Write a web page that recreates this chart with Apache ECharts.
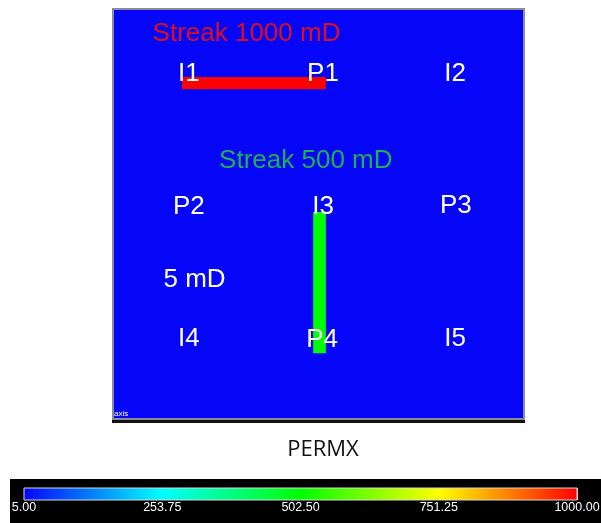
<!DOCTYPE html>
<html>
<head>
<meta charset="utf-8">
<script src="https://cdn.jsdelivr.net/npm/echarts@6/dist/echarts.min.js"></script>
<style>html,body{margin:0;padding:0;background:#fff;}#c{width:601px;height:523px;}</style>
</head>
<body>
<div id="c"></div>
<script>
// Reservoir field (coordinates in % of the model extent): [x0, x1, y0, y1, PERMX mD]
const fieldCells = [
  [0, 100, 0, 100, 5],          // matrix 5 mD
  [16.6, 51.8, 16.4, 19.4, 1000], // streak 1000 mD (I1 -> P1)
  [48.7, 51.8, 49.5, 84.1, 500]   // streak 500 mD (I3 -> P4)
];
// Wells
const wellNames = ['I1', 'P1', 'I2', 'P2', 'I3', 'P3', 'I4', 'P4', 'I5'];
const wellX = [18.3, 51.1, 83.4, 18.3, 51.1, 83.6, 18.3, 50.9, 83.4];
const wellY = [15.2, 15.2, 15.2, 47.8, 47.8, 47.5, 80.1, 80.4, 80.1];
// Annotations
const noteTexts = ['Streak 1000 mD', 'Streak 500 mD', '5 mD'];
const noteX = [32.4, 46.9, 19.7];
const noteY = [5.4, 36.5, 65.7];
const noteColors = ['#dc0f1c', '#1fb050', '#ffffff'];
// Colour bar
const permMin = 5, permMax = 1000, permStep = 248.75;
const barColors = ['#0505f8', '#00ffff', '#00ff00', '#ffff00', '#ff0000'];

const chart = echarts.init(document.getElementById('c'));
const font = 'Liberation Sans, Arial, sans-serif';

const option = {
  backgroundColor: '#ffffff',
  animation: false,
  graphic: [
    { type: 'rect', z: 0, shape: { x: 112, y: 8, width: 413, height: 413 }, style: { fill: '#8a8a9a' } },
    { type: 'rect', z: 0, shape: { x: 112, y: 420, width: 413, height: 3 }, style: { fill: '#111111' } },
    { type: 'rect', z: 0, shape: { x: 10, y: 479, width: 591, height: 44 }, style: { fill: '#000000' } },
    { type: 'text', z: 10, x: 323, y: 450, style: { text: 'PERMX', fill: '#111111', font: '22px "Open Sans", sans-serif', align: 'center', verticalAlign: 'middle' } },
    { type: 'text', z: 10, x: 114, y: 414, style: { text: 'axis', fill: '#ffffff', font: '8px ' + font, align: 'left', verticalAlign: 'middle' } }
  ],
  visualMap: {
    type: 'continuous', show: false, dimension: 4, seriesIndex: 0,
    min: permMin, max: permMax, inRange: { color: barColors }
  },
  grid: [
    { left: 114, top: 10, width: 409, height: 408, outerBoundsMode: 'none', containLabel: false },
    { left: 24, top: 488, width: 553, height: 12, outerBoundsMode: 'none', containLabel: false }
  ],
  xAxis: [
    { gridIndex: 0, type: 'value', min: 0, max: 100, show: false },
    {
      gridIndex: 1, type: 'value', min: permMin, max: permMax, interval: permStep,
      axisLine: { show: false }, axisTick: { show: false },
      splitLine: { show: true, lineStyle: { color: '#ffffff', width: 1, opacity: 0.8 } },
      axisLabel: { color: '#ffffff', fontSize: 12.5, fontFamily: font, margin: 1, showMinLabel: true, showMaxLabel: true,
        formatter: v => v.toFixed(2) }
    }
  ],
  yAxis: [
    { gridIndex: 0, type: 'value', min: 0, max: 100, inverse: true, show: false },
    { gridIndex: 1, type: 'value', min: 0, max: 1, show: false }
  ],
  series: [
    {
      type: 'custom', xAxisIndex: 0, yAxisIndex: 0, z: 2,
      data: fieldCells,
      encode: { x: [0, 1], y: [2, 3] },
      renderItem: (params, api) => {
        const p0 = api.coord([api.value(0), api.value(2)]);
        const p1 = api.coord([api.value(1), api.value(3)]);
        return { type: 'rect', shape: { x: p0[0], y: p0[1], width: p1[0] - p0[0], height: p1[1] - p0[1] }, style: { fill: api.visual('color') } };
      }
    },
    {
      type: 'scatter', xAxisIndex: 0, yAxisIndex: 0, z: 5, symbolSize: 0, silent: true,
      itemStyle: { opacity: 1 },
      data: wellNames.map((n, i) => ({ name: n, value: [wellX[i], wellY[i]] })),
      label: { show: true, position: 'inside', offset: [0, 2], formatter: '{b}', color: '#ffffff', fontSize: 26, fontFamily: font }
    },
    {
      type: 'scatter', xAxisIndex: 0, yAxisIndex: 0, z: 5, symbolSize: 0, silent: true,
      itemStyle: { opacity: 1 },
      data: noteTexts.map((t, i) => ({ name: t, value: [noteX[i], noteY[i]], label: { color: noteColors[i] } })),
      label: { show: true, position: 'inside', offset: [0, 2], formatter: '{b}', fontSize: 26, fontFamily: font }
    },
    {
      type: 'custom', xAxisIndex: 1, yAxisIndex: 1, z: 1,
      data: [[permMin, permMax]],
      encode: { x: [0, 1] },
      renderItem: (params, api) => {
        const p0 = api.coord([api.value(0), 1]);
        const p1 = api.coord([api.value(1), 0]);
        const stops = barColors.map((c, i) => ({ offset: i / (barColors.length - 1), color: c }));
        return { type: 'rect', shape: { x: p0[0], y: p0[1], width: p1[0] - p0[0], height: p1[1] - p0[1] },
          style: { fill: new echarts.graphic.LinearGradient(0, 0, 1, 0, stops), stroke: '#d8d8d8', lineWidth: 1 } };
      }
    }
  ]
};
chart.setOption(option);
</script>
</body>
</html>
